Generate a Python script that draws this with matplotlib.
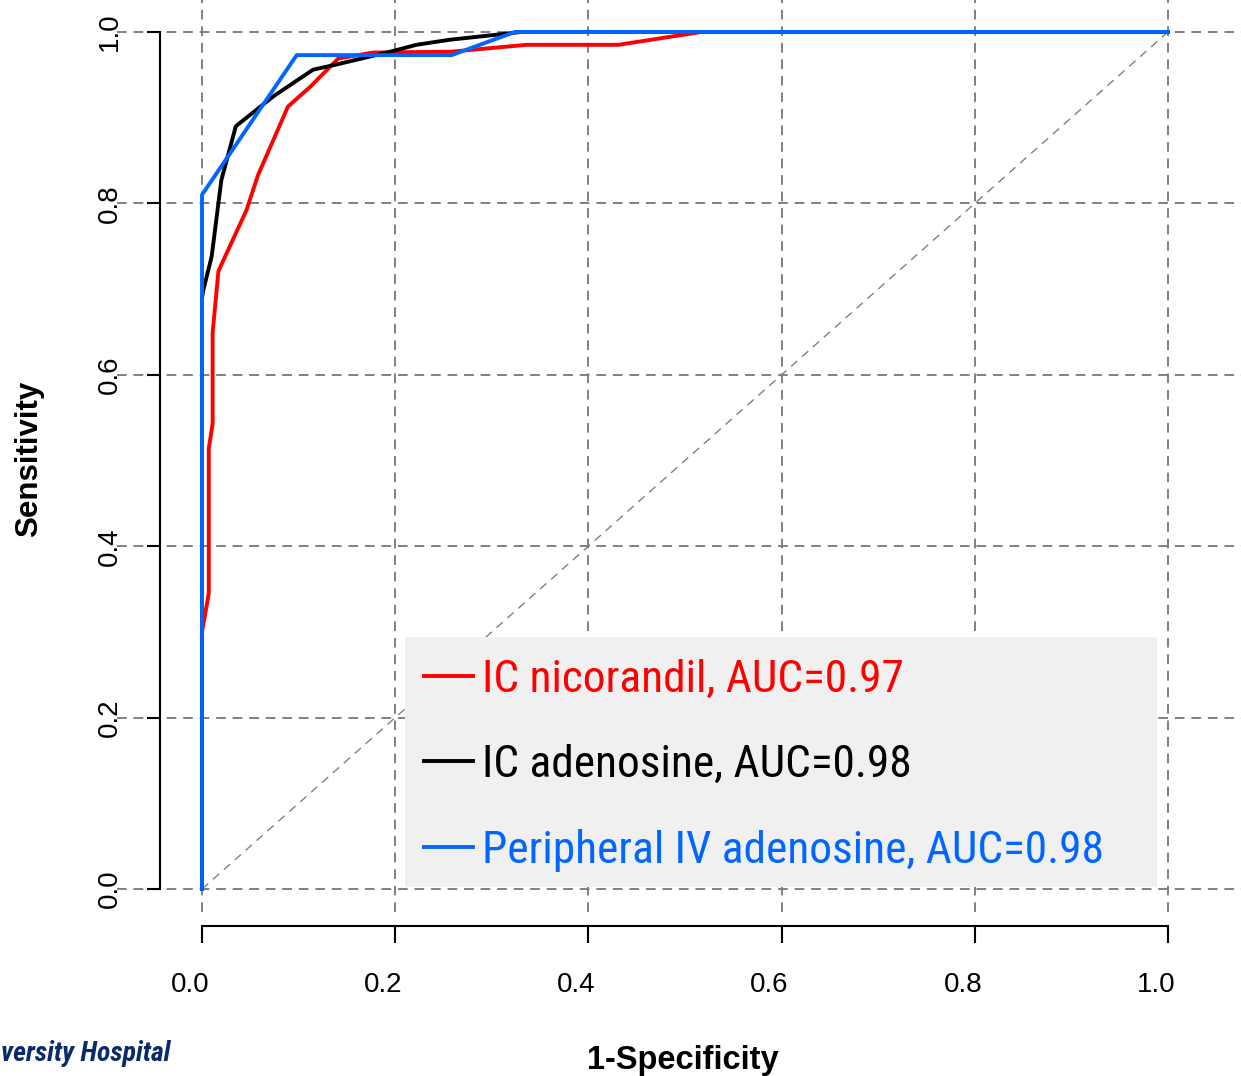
"""
ROC curves for three hyperaemic agents (sensitivity vs 1-specificity).
Output: out.png
"""

import matplotlib

matplotlib.use("Agg")
import matplotlib.pyplot as plt
from matplotlib import font_manager
from matplotlib.patches import Rectangle
from matplotlib.transforms import ScaledTranslation


# ROC points (1-specificity, sensitivity)
nico_fpr = [0, 0, 0.007, 0.007, 0.011, 0.011, 0.017, 0.046, 0.058, 0.089, 0.112, 0.141, 0.177, 0.258, 0.336, 0.431, 0.517, 1.0]
nico_tpr = [0, 0.30, 0.345, 0.514, 0.543, 0.649, 0.721, 0.792, 0.833, 0.913, 0.936, 0.969, 0.976, 0.977, 0.985, 0.985, 1.0, 1.0]

ic_ado_fpr = [0, 0, 0.0014, 0.010, 0.020, 0.035, 0.074, 0.115, 0.139, 0.195, 0.222, 0.257, 0.315, 0.33, 1.0]
ic_ado_tpr = [0, 0.69, 0.699, 0.738, 0.827, 0.890, 0.925, 0.956, 0.962, 0.977, 0.985, 0.991, 0.998, 1.0, 1.0]

iv_ado_fpr = [0, 0, 0.098, 0.2585, 0.324, 1.0]
iv_ado_tpr = [0, 0.810, 0.973, 0.973, 1.0, 1.0]

labels = [
    "IC nicorandil, AUC=0.97",
    "IC adenosine, AUC=0.98",
    "Peripheral IV adenosine, AUC=0.98",
]
ticks = [0.0, 0.2, 0.4, 0.6, 0.8, 1.0]
tick_labels = ["0.0", "0.2", "0.4", "0.6", "0.8", "1.0"]

COLORS = {
    "nico": "#ff0000",
    "ic": "#000000",
    "iv": "#0066ff",
    "grid": "#808080",
    "legend_bg": "#f0f0f0",
    "logo": "#0b2a6b",
}


def first_font(candidates):
    have = {f.name for f in font_manager.fontManager.ttflist}
    for name in candidates:
        if name in have:
            return name
    return "DejaVu Sans"


NARROW = first_font(["Liberation Sans Narrow", "Arial Narrow", "Roboto Condensed",
                     "Archivo Narrow", "PT Sans Narrow"])

W, H = 1241, 1076
plt.rcParams["font.family"] = ["Liberation Sans", "DejaVu Sans"]

fig = plt.figure(figsize=(W / 100, H / 100), dpi=100)
# plot region in pixels: x 117..1241, y 0..912
ax = fig.add_axes([117 / W, (H - 912) / H, (W - 117) / W, 912 / H])
ax.set_xlim(-0.088, 1.0756)
ax.set_ylim(-0.0268, 1.0373)

# dashed grid across the whole plot region
for t in ticks:
    ax.axvline(t, color=COLORS["grid"], lw=1.4, ls=(0, (5, 3.5)), zorder=1)
    ax.axhline(t, color=COLORS["grid"], lw=1.4, ls=(0, (5, 3.5)), zorder=1)
ax.plot([0, 1], [0, 1], color=COLORS["grid"], lw=1.0, ls=(0, (6, 4.5)), zorder=1)

l1, = ax.plot(nico_fpr, nico_tpr, color=COLORS["nico"], lw=2.8, zorder=4)
l2, = ax.plot(ic_ado_fpr, ic_ado_tpr, color=COLORS["ic"], lw=2.8, zorder=4)
l3, = ax.plot(iv_ado_fpr, iv_ado_tpr, color=COLORS["iv"], lw=2.8, zorder=5)

# legend background box (R-style, wider on the right)
ax.add_patch(Rectangle((0.210, 0.002), 0.7786, 0.292, facecolor=COLORS["legend_bg"],
                       edgecolor="none", zorder=3))
leg = ax.legend([l1, l2, l3], labels, loc="upper left",
                bbox_to_anchor=(424 / W, 1 - 659 / H), bbox_transform=fig.transFigure,
                frameon=False, borderpad=0, borderaxespad=0,
                handlelength=1.07, handletextpad=0.21, labelspacing=0.95,
                prop={"family": NARROW, "size": 32.7})
for txt, line in zip(leg.get_texts(), [l1, l2, l3]):
    txt.set_color(line.get_color())
leg.set_zorder(6)

# R-style detached axes
for side in ["top", "right"]:
    ax.spines[side].set_visible(False)
ax.spines["left"].set_position(("data", -0.0435))
ax.spines["left"].set_bounds(0, 1)
ax.spines["bottom"].set_position(("data", -0.0432))
ax.spines["bottom"].set_bounds(0, 1)
ax.spines["left"].set_linewidth(1.5)
ax.spines["bottom"].set_linewidth(1.5)

ax.set_xticks(ticks)
ax.set_xticklabels(tick_labels)
ax.set_yticks(ticks)
ax.set_yticklabels(tick_labels, rotation=90, va="center")
ax.tick_params(axis="x", length=12, width=1.5, pad=20.8, labelsize=20)
ax.tick_params(axis="y", length=9.5, width=1.5, pad=17.4, labelsize=20)
shift = ScaledTranslation(-12 / 100, 0, fig.dpi_scale_trans)
for lab in ax.get_xticklabels():
    lab.set_transform(lab.get_transform() + shift)

ax.set_xlabel("1-Specificity", fontsize=23.5, fontweight="bold")
ax.xaxis.set_label_coords(0.503, -0.146)
ax.set_ylabel("Sensitivity", fontsize=22.5, fontweight="bold")
ax.yaxis.set_label_coords(-0.0652, 0.497)

# logo fragment visible at the lower-left corner of the source image
fig.text(1 / W, 1 - 1061 / H, "versity Hospital", ha="left", va="baseline",
         fontsize=20, fontweight="bold", fontstyle="italic", color=COLORS["logo"],
         family=NARROW)

fig.savefig("out.png", dpi=100)
